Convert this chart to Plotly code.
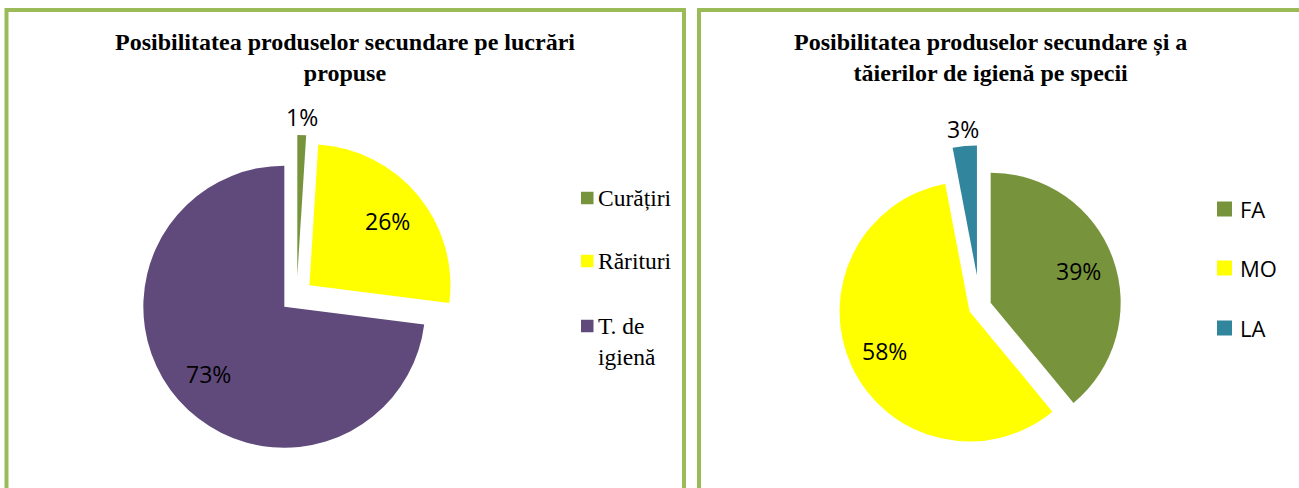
import math
import plotly.graph_objects as go

# ---------------- data ----------------
left_title = "Posibilitatea produselor secundare pe lucrări<br>propuse"
left_labels = ["Curățiri", "Rărituri", "T. de igienă"]
left_values = [1, 26, 73]

right_title = "Posibilitatea produselor secundare și a<br>tăierilor de igienă pe specii"
right_labels = ["FA", "MO", "LA"]
right_values = [39, 58, 3]

# ---------------- style ----------------
W, H = 1299, 488
left_colors = ["#77933C", "#FFFF00", "#604A7B"]
right_colors = ["#77933C", "#FFFF00", "#31859C"]
left_pull = [0.14, 0.117, 0.117]
right_pull = [0.088, 0.088, 0.24]
border = "#9BBB59"
SERIF = "Times New Roman, Liberation Serif, serif"
SANS = "Open Sans, sans-serif"

# pie placement (pixel centre, pixel radius)
left_c, left_r = (296.7, 295.8), 141.0
right_c, right_r = (979.9, 306.6), 130.0


def px_x(x):
    return x / W


def px_y(y):
    return 1 - y / H


def domain(c, r, pulls):
    s = 2 * r * (1 + max(pulls))
    return dict(x=[px_x(c[0] - s / 2), px_x(c[0] + s / 2)],
                y=[px_y(c[1] + s / 2), px_y(c[1] - s / 2)])


fig = go.Figure()
fig.add_trace(go.Pie(
    labels=left_labels, values=left_values, sort=False, direction="clockwise",
    rotation=0, pull=left_pull, marker=dict(colors=left_colors, line=dict(width=0)),
    textinfo="none", hoverinfo="label+percent", showlegend=False,
    domain=domain(left_c, left_r, left_pull)))
fig.add_trace(go.Pie(
    labels=right_labels, values=right_values, sort=False, direction="clockwise",
    rotation=0, pull=right_pull, marker=dict(colors=right_colors, line=dict(width=0)),
    textinfo="none", hoverinfo="label+percent", showlegend=False,
    domain=domain(right_c, right_r, right_pull)))

annotations = []
shapes = []


def pie_labels(values, pulls, c, r):
    total = sum(values)
    start = 0.0
    for v, p in zip(values, pulls):
        frac = v / total
        mid = (start + frac / 2) * 2 * math.pi
        start += frac
        dx, dy = math.sin(mid), -math.cos(mid)
        ax, ay = c[0] + p * r * dx, c[1] + p * r * dy
        k = 1.13 if frac < 0.05 else 0.72
        lx, ly = ax + k * r * dx, ay + k * r * dy
        annotations.append(dict(
            x=px_x(lx), y=px_y(ly), xref="paper", yref="paper", showarrow=False,
            text=f"{round(100 * frac)}%", xanchor="center", yanchor="middle",
            font=dict(family=SANS, size=23, color="#000000")))


pie_labels(left_values, left_pull, left_c, left_r)
pie_labels(right_values, right_pull, right_c, right_r)

# titles
for t, cx in [(left_title, 345), (right_title, 990)]:
    annotations.append(dict(
        x=px_x(cx), y=px_y(57.5), xref="paper", yref="paper", showarrow=False,
        text=f"<b>{t}</b>", xanchor="center", yanchor="middle", align="center",
        font=dict(family=SERIF, size=24, color="#000000")))

# legends (manual, to reproduce the spacing)
left_leg_y = [198, 261, 326]
for lab, col, y in zip(left_labels, left_colors, left_leg_y):
    shapes.append(dict(type="rect", xref="paper", yref="paper",
                       x0=px_x(581), x1=px_x(593.5), y0=px_y(y + 6.25), y1=px_y(y - 6.25),
                       fillcolor=col, line=dict(width=0)))
    txt = lab.replace("T. de ", "T. de<br>")
    nlines = txt.count("<br>") + 1
    annotations.append(dict(
        x=px_x(596), y=px_y(y + (nlines - 1) * 15), xref="paper", yref="paper",
        showarrow=False, text=txt, xanchor="left", yanchor="middle", align="left",
        font=dict(family=SERIF, size=23.5, color="#000000")))

right_leg_y = [209, 268, 328]
for lab, col, y in zip(right_labels, right_colors, right_leg_y):
    shapes.append(dict(type="rect", xref="paper", yref="paper",
                       x0=px_x(1217), x1=px_x(1232), y0=px_y(y + 7.5), y1=px_y(y - 7.5),
                       fillcolor=col, line=dict(width=0)))
    annotations.append(dict(
        x=px_x(1238), y=px_y(y), xref="paper", yref="paper",
        showarrow=False, text=lab, xanchor="left", yanchor="middle", align="left",
        font=dict(family=SANS, size=22, color="#000000")))

# panel borders
shapes.append(dict(type="rect", xref="paper", yref="paper",
                   x0=px_x(6.5), x1=px_x(684), y0=px_y(520), y1=px_y(10),
                   line=dict(color=border, width=4), fillcolor="rgba(0,0,0,0)", layer="below"))
shapes.append(dict(type="rect", xref="paper", yref="paper",
                   x0=px_x(699), x1=px_x(1340), y0=px_y(520), y1=px_y(10),
                   line=dict(color=border, width=4), fillcolor="rgba(0,0,0,0)", layer="below"))

fig.update_layout(
    width=W, height=H, margin=dict(l=0, r=0, t=0, b=0),
    paper_bgcolor="#FFFFFF", plot_bgcolor="#FFFFFF",
    annotations=annotations, shapes=shapes, showlegend=False)

fig.write_html("out.html", config={"displayModeBar": False},
               post_script="document.body.style.margin='0';document.body.style.overflow='hidden';")
